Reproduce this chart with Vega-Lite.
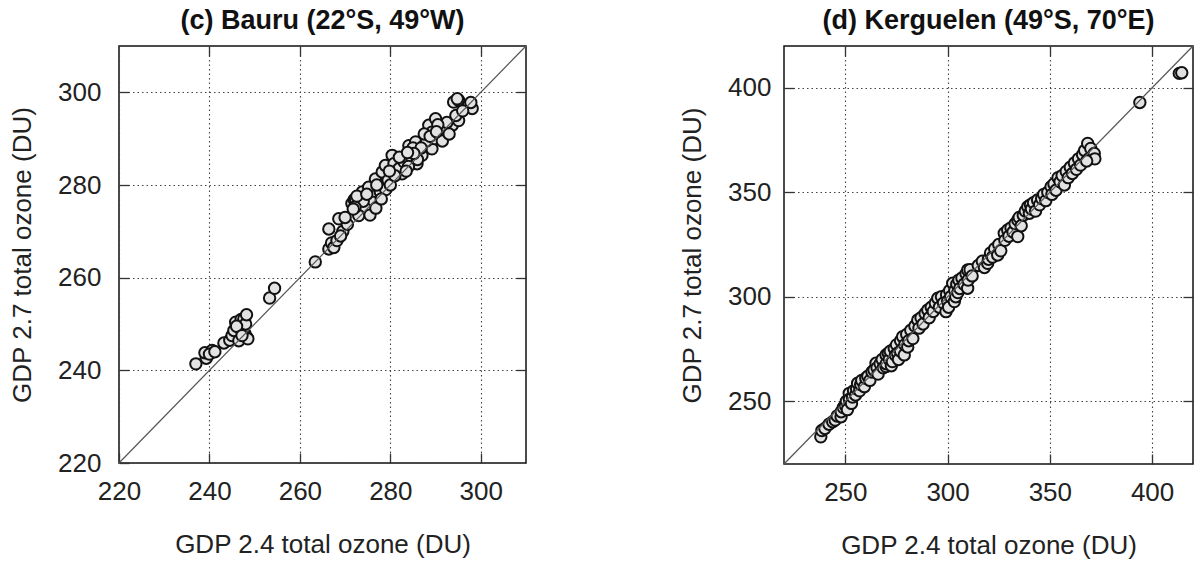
{
  "$schema": "https://vega.github.io/schema/vega-lite/v6.json",
  "background": "white",
  "padding": {"left": 8, "top": 6, "right": 2, "bottom": 2},
  "config": {
    "font": "Liberation Sans",
    "view": {"stroke": "#111", "strokeWidth": 1.5},
    "axis": {
      "labelFont": "Liberation Sans", "labelFontSize": 26, "labelColor": "#222", "labelFlush": false,
      "titleFont": "Liberation Sans", "titleFontSize": 26, "titleFontWeight": "normal", "titleColor": "#222",
      "domain": false, "tickColor": "#333", "tickSize": -10, "tickWidth": 1.3,
      "grid": true, "gridColor": "#444", "gridDash": [1.5, 3], "gridWidth": 1.1,
      "labelPadding": 28
    },
    "axisX": {"titlePadding": 27, "labelPadding": 25},
    "axisY": {"titlePadding": 22},
    "title": {"font": "Liberation Sans", "fontSize": 27, "fontWeight": "bold", "color": "#111", "offset": 10}
  },
  "datasets": {
    "bauru": [
      {"gdp24": 237.0, "gdp27": 241.4}, {"gdp24": 239.3, "gdp27": 242.6}, {"gdp24": 239.0, "gdp27": 243.8}, {"gdp24": 240.6, "gdp27": 244.3},
      {"gdp24": 240.0, "gdp27": 243.5}, {"gdp24": 241.2, "gdp27": 244.0}, {"gdp24": 243.2, "gdp27": 245.9}, {"gdp24": 244.5, "gdp27": 246.5},
      {"gdp24": 245.0, "gdp27": 247.5}, {"gdp24": 245.4, "gdp27": 248.6}, {"gdp24": 245.8, "gdp27": 250.4}, {"gdp24": 246.5, "gdp27": 246.4},
      {"gdp24": 246.8, "gdp27": 249.0}, {"gdp24": 247.0, "gdp27": 251.0}, {"gdp24": 247.6, "gdp27": 251.1}, {"gdp24": 247.8, "gdp27": 248.0},
      {"gdp24": 248.0, "gdp27": 250.0}, {"gdp24": 248.3, "gdp27": 247.1}, {"gdp24": 248.5, "gdp27": 246.8}, {"gdp24": 248.2, "gdp27": 252.0},
      {"gdp24": 246.0, "gdp27": 249.5}, {"gdp24": 247.2, "gdp27": 247.5}, {"gdp24": 253.3, "gdp27": 255.6}, {"gdp24": 254.4, "gdp27": 257.7},
      {"gdp24": 263.4, "gdp27": 263.4}, {"gdp24": 266.4, "gdp27": 266.2}, {"gdp24": 267.0, "gdp27": 267.5}, {"gdp24": 267.5, "gdp27": 266.5},
      {"gdp24": 268.2, "gdp27": 268.0}, {"gdp24": 266.4, "gdp27": 270.5}, {"gdp24": 268.6, "gdp27": 272.7}, {"gdp24": 269.5, "gdp27": 270.0},
      {"gdp24": 270.5, "gdp27": 271.5}, {"gdp24": 271.5, "gdp27": 276.0}, {"gdp24": 272.0, "gdp27": 276.8}, {"gdp24": 272.3, "gdp27": 277.0},
      {"gdp24": 272.8, "gdp27": 275.8}, {"gdp24": 273.8, "gdp27": 278.5}, {"gdp24": 275.2, "gdp27": 279.5}, {"gdp24": 276.7, "gdp27": 281.3},
      {"gdp24": 277.8, "gdp27": 278.5}, {"gdp24": 276.0, "gdp27": 276.3}, {"gdp24": 274.5, "gdp27": 274.9}, {"gdp24": 273.0, "gdp27": 273.4},
      {"gdp24": 275.5, "gdp27": 273.5}, {"gdp24": 276.8, "gdp27": 275.0}, {"gdp24": 278.2, "gdp27": 282.8}, {"gdp24": 278.9, "gdp27": 284.2},
      {"gdp24": 280.4, "gdp27": 286.4}, {"gdp24": 280.8, "gdp27": 284.6}, {"gdp24": 282.6, "gdp27": 282.4}, {"gdp24": 281.9, "gdp27": 283.5},
      {"gdp24": 279.5, "gdp27": 281.0}, {"gdp24": 279.0, "gdp27": 279.0}, {"gdp24": 278.0, "gdp27": 277.0}, {"gdp24": 280.0, "gdp27": 280.0},
      {"gdp24": 281.0, "gdp27": 282.0}, {"gdp24": 283.0, "gdp27": 285.0}, {"gdp24": 284.1, "gdp27": 288.5}, {"gdp24": 285.6, "gdp27": 289.3},
      {"gdp24": 286.3, "gdp27": 287.1}, {"gdp24": 287.4, "gdp27": 288.5}, {"gdp24": 288.5, "gdp27": 292.9}, {"gdp24": 289.2, "gdp27": 291.4},
      {"gdp24": 290.0, "gdp27": 294.3}, {"gdp24": 290.7, "gdp27": 290.8}, {"gdp24": 292.2, "gdp27": 291.8}, {"gdp24": 293.7, "gdp27": 292.9},
      {"gdp24": 295.1, "gdp27": 293.9}, {"gdp24": 294.0, "gdp27": 297.9}, {"gdp24": 295.1, "gdp27": 298.3}, {"gdp24": 297.3, "gdp27": 297.2},
      {"gdp24": 298.1, "gdp27": 296.5}, {"gdp24": 284.8, "gdp27": 285.7}, {"gdp24": 287.0, "gdp27": 286.4}, {"gdp24": 289.2, "gdp27": 287.8},
      {"gdp24": 285.9, "gdp27": 284.6}, {"gdp24": 284.0, "gdp27": 284.0}, {"gdp24": 286.0, "gdp27": 285.5}, {"gdp24": 288.0, "gdp27": 289.5},
      {"gdp24": 289.8, "gdp27": 290.0}, {"gdp24": 291.0, "gdp27": 292.0}, {"gdp24": 292.5, "gdp27": 293.5}, {"gdp24": 294.5, "gdp27": 295.0},
      {"gdp24": 296.0, "gdp27": 296.0}, {"gdp24": 291.5, "gdp27": 289.5}, {"gdp24": 287.5, "gdp27": 291.0}, {"gdp24": 282.0, "gdp27": 286.0},
      {"gdp24": 283.5, "gdp27": 283.0}, {"gdp24": 277.0, "gdp27": 280.0}, {"gdp24": 274.0, "gdp27": 276.5}, {"gdp24": 270.0, "gdp27": 273.0},
      {"gdp24": 269.0, "gdp27": 269.0}, {"gdp24": 285.0, "gdp27": 288.0}, {"gdp24": 290.5, "gdp27": 293.0}, {"gdp24": 293.0, "gdp27": 291.0},
      {"gdp24": 272.2, "gdp27": 275.2}, {"gdp24": 272.6, "gdp27": 277.6}, {"gdp24": 271.8, "gdp27": 274.8}, {"gdp24": 274.8, "gdp27": 278.0},
      {"gdp24": 286.8, "gdp27": 288.0}, {"gdp24": 288.8, "gdp27": 290.5}, {"gdp24": 290.2, "gdp27": 291.5}, {"gdp24": 285.2, "gdp27": 286.8},
      {"gdp24": 283.8, "gdp27": 287.0}, {"gdp24": 279.8, "gdp27": 283.0}, {"gdp24": 294.8, "gdp27": 298.6}, {"gdp24": 297.8, "gdp27": 297.8}
    ],
    "kerg": [
      {"gdp24": 238, "gdp27": 233}, {"gdp24": 238.5, "gdp27": 236}, {"gdp24": 240, "gdp27": 237}, {"gdp24": 242, "gdp27": 239},
      {"gdp24": 243.8, "gdp27": 240.2}, {"gdp24": 245, "gdp27": 241}, {"gdp24": 246, "gdp27": 243}, {"gdp24": 247.9, "gdp27": 242.6},
      {"gdp24": 248, "gdp27": 245}, {"gdp24": 249, "gdp27": 247}, {"gdp24": 250, "gdp27": 248}, {"gdp24": 250.5, "gdp27": 250},
      {"gdp24": 251, "gdp27": 246}, {"gdp24": 251.9, "gdp27": 253.8}, {"gdp24": 252, "gdp27": 251}, {"gdp24": 253, "gdp27": 249},
      {"gdp24": 253.5, "gdp27": 252}, {"gdp24": 254, "gdp27": 255}, {"gdp24": 255, "gdp27": 253}, {"gdp24": 255.5, "gdp27": 256},
      {"gdp24": 256, "gdp27": 258.6}, {"gdp24": 257, "gdp27": 255}, {"gdp24": 257.5, "gdp27": 258}, {"gdp24": 258, "gdp27": 260},
      {"gdp24": 259.3, "gdp27": 257}, {"gdp24": 260, "gdp27": 261}, {"gdp24": 261, "gdp27": 262}, {"gdp24": 262, "gdp27": 260},
      {"gdp24": 263, "gdp27": 264}, {"gdp24": 264, "gdp27": 265}, {"gdp24": 265, "gdp27": 268.2}, {"gdp24": 265.5, "gdp27": 266},
      {"gdp24": 266, "gdp27": 263}, {"gdp24": 267, "gdp27": 268}, {"gdp24": 268, "gdp27": 270}, {"gdp24": 268.5, "gdp27": 266},
      {"gdp24": 269.9, "gdp27": 272.2}, {"gdp24": 269.9, "gdp27": 266.6}, {"gdp24": 270, "gdp27": 268}, {"gdp24": 271, "gdp27": 273},
      {"gdp24": 271.5, "gdp27": 270}, {"gdp24": 272, "gdp27": 274}, {"gdp24": 272.5, "gdp27": 267}, {"gdp24": 273, "gdp27": 269},
      {"gdp24": 273.9, "gdp27": 275.3}, {"gdp24": 274.5, "gdp27": 272}, {"gdp24": 275, "gdp27": 277}, {"gdp24": 275.5, "gdp27": 273},
      {"gdp24": 276, "gdp27": 270}, {"gdp24": 277, "gdp27": 279}, {"gdp24": 277, "gdp27": 274}, {"gdp24": 278, "gdp27": 280.9},
      {"gdp24": 278.8, "gdp27": 272.2}, {"gdp24": 279, "gdp27": 277}, {"gdp24": 280, "gdp27": 282}, {"gdp24": 280.5, "gdp27": 276},
      {"gdp24": 281, "gdp27": 279}, {"gdp24": 282, "gdp27": 284}, {"gdp24": 283, "gdp27": 280}, {"gdp24": 284, "gdp27": 286},
      {"gdp24": 285.4, "gdp27": 288.9}, {"gdp24": 286, "gdp27": 285}, {"gdp24": 287, "gdp27": 290}, {"gdp24": 288, "gdp27": 287},
      {"gdp24": 289, "gdp27": 292}, {"gdp24": 290.3, "gdp27": 293.7}, {"gdp24": 291, "gdp27": 290}, {"gdp24": 292, "gdp27": 295},
      {"gdp24": 293, "gdp27": 293}, {"gdp24": 294, "gdp27": 297}, {"gdp24": 295.2, "gdp27": 299.3}, {"gdp24": 296, "gdp27": 295},
      {"gdp24": 297, "gdp27": 300}, {"gdp24": 298, "gdp27": 297}, {"gdp24": 299.2, "gdp27": 292.9}, {"gdp24": 299.5, "gdp27": 301},
      {"gdp24": 300, "gdp27": 298}, {"gdp24": 300.5, "gdp27": 295}, {"gdp24": 301, "gdp27": 303}, {"gdp24": 301.5, "gdp27": 300},
      {"gdp24": 302.5, "gdp27": 306.5}, {"gdp24": 303.3, "gdp27": 297.7}, {"gdp24": 303.5, "gdp27": 303}, {"gdp24": 304, "gdp27": 300},
      {"gdp24": 304.5, "gdp27": 306}, {"gdp24": 305, "gdp27": 302}, {"gdp24": 305.5, "gdp27": 308}, {"gdp24": 306, "gdp27": 304},
      {"gdp24": 307, "gdp27": 309}, {"gdp24": 308, "gdp27": 306}, {"gdp24": 309, "gdp27": 311}, {"gdp24": 309.8, "gdp27": 304.1},
      {"gdp24": 309.8, "gdp27": 312.8}, {"gdp24": 310, "gdp27": 308}, {"gdp24": 311, "gdp27": 313}, {"gdp24": 312, "gdp27": 310},
      {"gdp24": 315, "gdp27": 315}, {"gdp24": 317, "gdp27": 317}, {"gdp24": 318, "gdp27": 314}, {"gdp24": 319.6, "gdp27": 316},
      {"gdp24": 320, "gdp27": 318}, {"gdp24": 321, "gdp27": 321}, {"gdp24": 322, "gdp27": 319}, {"gdp24": 323, "gdp27": 323},
      {"gdp24": 324.5, "gdp27": 320}, {"gdp24": 325, "gdp27": 325}, {"gdp24": 326, "gdp27": 322}, {"gdp24": 327.7, "gdp27": 330.4},
      {"gdp24": 328, "gdp27": 327}, {"gdp24": 329.4, "gdp27": 332}, {"gdp24": 330, "gdp27": 329}, {"gdp24": 331, "gdp27": 333},
      {"gdp24": 332, "gdp27": 331}, {"gdp24": 333, "gdp27": 335}, {"gdp24": 334.3, "gdp27": 328.8}, {"gdp24": 334.3, "gdp27": 336.7},
      {"gdp24": 335, "gdp27": 338}, {"gdp24": 336, "gdp27": 334}, {"gdp24": 337, "gdp27": 339}, {"gdp24": 338, "gdp27": 341},
      {"gdp24": 339.2, "gdp27": 343.1}, {"gdp24": 340, "gdp27": 340}, {"gdp24": 340.5, "gdp27": 344}, {"gdp24": 341, "gdp27": 342},
      {"gdp24": 342, "gdp27": 345}, {"gdp24": 343, "gdp27": 341}, {"gdp24": 344, "gdp27": 346.3}, {"gdp24": 345, "gdp27": 344},
      {"gdp24": 346, "gdp27": 347}, {"gdp24": 347, "gdp27": 349}, {"gdp24": 348, "gdp27": 346}, {"gdp24": 349, "gdp27": 350},
      {"gdp24": 350.6, "gdp27": 352.7}, {"gdp24": 351, "gdp27": 349}, {"gdp24": 352, "gdp27": 354}, {"gdp24": 353, "gdp27": 351},
      {"gdp24": 354, "gdp27": 357}, {"gdp24": 355, "gdp27": 355}, {"gdp24": 356, "gdp27": 358}, {"gdp24": 357.1, "gdp27": 353.5},
      {"gdp24": 358, "gdp27": 360}, {"gdp24": 359, "gdp27": 357}, {"gdp24": 360, "gdp27": 362}, {"gdp24": 361, "gdp27": 359},
      {"gdp24": 362, "gdp27": 364}, {"gdp24": 363, "gdp27": 361}, {"gdp24": 364, "gdp27": 366}, {"gdp24": 365, "gdp27": 363},
      {"gdp24": 366, "gdp27": 368}, {"gdp24": 367, "gdp27": 370}, {"gdp24": 368.5, "gdp27": 373.4}, {"gdp24": 369, "gdp27": 366},
      {"gdp24": 370, "gdp27": 371}, {"gdp24": 371.7, "gdp27": 368.6}, {"gdp24": 372, "gdp27": 366}, {"gdp24": 368, "gdp27": 365},
      {"gdp24": 394, "gdp27": 393}, {"gdp24": 413.3, "gdp27": 406.9}, {"gdp24": 414.5, "gdp27": 407.2}
    ]
  },
  "spacing": 150,
  "hconcat": [
    {
      "width": 407, "height": 417,
      "title": "(c) Bauru (22°S, 49°W)",
      "resolve": {"axis": {"x": "independent", "y": "independent"}},
      "layer": [
        {
          "data": {"name": "bauru"},
          "mark": {"type": "point", "shape": "circle", "filled": false, "fill": "#e2e2e2", "fillOpacity": 1, "stroke": "#111", "strokeWidth": 2, "size": 130, "opacity": 1},
          "encoding": {
            "x": {"field": "gdp24", "type": "quantitative", "scale": {"domain": [220, 310], "nice": false, "zero": false}, "axis": {"values": [220, 240, 260, 280, 300], "title": "GDP 2.4 total ozone (DU)"}},
            "y": {"field": "gdp27", "type": "quantitative", "scale": {"domain": [220, 310], "nice": false, "zero": false}, "axis": {"values": [220, 240, 260, 280, 300], "title": "GDP 2.7 total ozone (DU)"}}
          }
        },
        {
          "data": {"values": [{"lo": 220, "hi": 310}]},
          "mark": {"type": "rule", "color": "#555", "strokeWidth": 1.2},
          "encoding": {
            "x": {"field": "lo", "type": "quantitative", "axis": {"orient": "top", "values": [240, 260, 280, 300], "labels": false, "title": null, "grid": false}},
            "x2": {"field": "hi"},
            "y": {"field": "lo", "type": "quantitative", "axis": {"orient": "right", "values": [240, 260, 280, 300], "labels": false, "title": null, "grid": false}},
            "y2": {"field": "hi"}
          }
        }
      ]
    },
    {
      "width": 409, "height": 418,
      "title": "(d) Kerguelen (49°S, 70°E)",
      "resolve": {"axis": {"x": "independent", "y": "independent"}},
      "layer": [
        {
          "data": {"name": "kerg"},
          "mark": {"type": "point", "shape": "circle", "filled": false, "fill": "#e2e2e2", "fillOpacity": 1, "stroke": "#111", "strokeWidth": 2, "size": 130, "opacity": 1},
          "encoding": {
            "x": {"field": "gdp24", "type": "quantitative", "scale": {"domain": [220, 420], "nice": false, "zero": false}, "axis": {"values": [250, 300, 350, 400], "title": "GDP 2.4 total ozone (DU)"}},
            "y": {"field": "gdp27", "type": "quantitative", "scale": {"domain": [220, 420], "nice": false, "zero": false}, "axis": {"values": [250, 300, 350, 400], "title": "GDP 2.7 total ozone (DU)", "labelPadding": 23}}
          }
        },
        {
          "data": {"values": [{"lo": 220, "hi": 420}]},
          "mark": {"type": "rule", "color": "#555", "strokeWidth": 1.2},
          "encoding": {
            "x": {"field": "lo", "type": "quantitative", "axis": {"orient": "top", "values": [250, 300, 350, 400], "labels": false, "title": null, "grid": false}},
            "x2": {"field": "hi"},
            "y": {"field": "lo", "type": "quantitative", "axis": {"orient": "right", "values": [250, 300, 350, 400], "labels": false, "title": null, "grid": false}},
            "y2": {"field": "hi"}
          }
        }
      ]
    }
  ]
}
